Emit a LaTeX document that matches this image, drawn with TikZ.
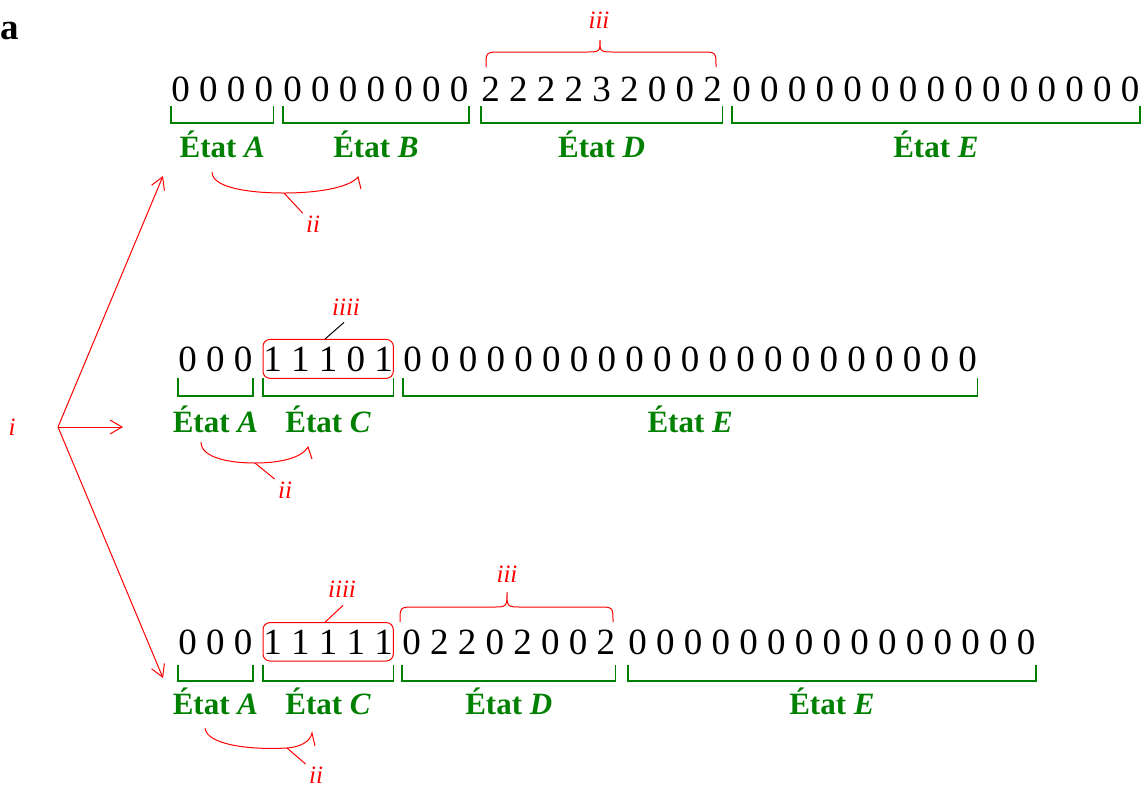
\documentclass[tikz,border=0pt]{standalone}
\usepackage{fontspec}
\setmainfont{Liberation Serif}
\usetikzlibrary{arrows.meta,calc,fit}
\definecolor{stgreen}{RGB}{0,128,0}
\definecolor{annred}{RGB}{255,0,0}
\tikzset{
  dig/.style={anchor=base west, inner sep=0pt, font=\fontsize{18.5}{22}\selectfont},
  brk/.style={draw=stgreen, line width=0.8pt},
  statelab/.style={anchor=base, inner sep=0pt, text=stgreen, font=\fontsize{15.5}{18}\selectfont\bfseries},
  ann/.style={text=annred, font=\fontsize{12.5}{15}\selectfont\itshape, inner sep=0pt},
  annline/.style={draw=annred, line width=0.5pt},
  selbox/.style={draw=annred, line width=0.5pt, rounded corners=3.5pt, inner xsep=0pt, inner ysep=3.3pt},
  forkarrow/.style={annline, -{Straight Barb[length=6pt,width=7pt]}},
}
\newcommand\grpbr[5]{%
  \draw[brk] ($(#1.base west)+(0,#2)$) -- ($(#1.base west)+(0,#3)$) -- ($(#1.base east)+(0,#3)$) -- ($(#1.base east)+(0,#2)$);
  \node[statelab] (l#1) at ($(#1.base)+(0,#4)$) {État \textit{#5}};}
\begin{document}
\begin{tikzpicture}[x=0.5pt,y=-0.5pt]
\useasboundingbox (0,0) rectangle (1146,789);
% panel letter
\node[anchor=base west, inner sep=0pt, font=\fontsize{18.5}{22}\selectfont\bfseries] (panel) at (0.5,39) {a};
% ---------- row 1
\node[dig] (a1) at (171,101) {0 0 0 0};
\node[dig] (b1) at (283,101) {0 0 0 0 0 0 0};
\node[dig] (d1) at (481,101) {2 2 2 2 3 2 0 0 2};
\node[dig] (e1) at (732,101) {0 0 0 0 0 0 0 0 0 0 0 0 0 0 0};
\grpbr{a1}{5}{22}{56}{A}
\grpbr{b1}{5}{22}{56}{B}
\grpbr{d1}{5}{22}{56}{D}
\grpbr{e1}{5}{22}{56}{E}
\draw[annline] (486,67) .. controls (486,52) .. (501,52) -- (585,52) .. controls (600,52) .. (600,40) .. controls (600,52) .. (615,52) -- (701,52) .. controls (716,52) .. (716,67);
\node[ann, anchor=base] (iii1) at (599,28) {iii};
\draw[annline] (212,172) .. controls (212,188) and (250,193) .. (284,193) coordinate (ii1) .. controls (320,193) and (350,187) .. (358,177) -- (361,189);
\node[ann, anchor=base] (lii1) at (313,232) {ii};
\draw[annline] (ii1) -- ($(lii1.north west)+(-3,-2)$);
% ---------- row 2
\node[dig] (a2) at (178,371) {0 0 0};
\node[dig] (c2) at (263,371) {1 1 1 0 1};
\node[dig] (e2) at (403,371) {0 0 0 0 0 0 0 0 0 0 0 0 0 0 0 0 0 0 0 0 0};
\grpbr{a2}{7}{25}{61}{A}
\grpbr{c2}{7}{25}{61}{C}
\grpbr{e2}{7}{25}{61}{E}
\node[selbox, fit=(c2)] (box2) {};
\node[ann, anchor=base] (iv2) at (346,315) {iiii};
\draw[line width=0.5pt] ($(box2.north)+(-3,0)$) -- ($(iv2.south)+(-2,7)$);
\draw[annline] (201,442) .. controls (201,458) and (230,463) .. (255,463) coordinate (ii2) .. controls (285,463) and (303,456) .. (308,447) -- (312,459);
\node[ann, anchor=base] (lii2) at (285,498) {ii};
\draw[annline] (ii2) -- ($(lii2.north west)+(-3,-2)$);
% ---------- row 3
\node[dig] (a3) at (178,654) {0 0 0};
\node[dig] (c3) at (263,654) {1 1 1 1 1};
\node[dig] (d3) at (402,654) {0 2 2 0 2 0 0 2};
\node[dig] (e3) at (628,654) {0 0 0 0 0 0 0 0 0 0 0 0 0 0 0};
\grpbr{a3}{11}{27}{60}{A}
\grpbr{c3}{11}{27}{60}{C}
\grpbr{d3}{11}{27}{60}{D}
\grpbr{e3}{11}{27}{60}{E}
\node[selbox, fit=(c3)] (box3) {};
\node[ann, anchor=base] (iv3) at (342,597) {iiii};
\draw[annline] ($(box3.north)+(-3,0)$) -- ($(iv3.south)+(1,8)$);
\draw[annline] (400,622) .. controls (400,607) .. (415,607) -- (492,607) .. controls (507,607) .. (507,592) .. controls (507,607) .. (522,607) -- (598,607) .. controls (613,607) .. (613,622);
\node[ann, anchor=base] (iii3) at (507,582) {iii};
\draw[annline] (205,728) .. controls (207,745) and (250,750) .. (287,748) coordinate (ii3) .. controls (300,747) and (310,742) .. (312,733) -- (315,746);
\node[ann, anchor=base] (lii3) at (316,783) {ii};
\draw[annline] (ii3) -- ($(lii3.north west)+(-3,-2)$);
% ---------- fork i
\node[ann, anchor=center] (ilab) at (12,427) {i};
\coordinate (fork) at (58,427);
\coordinate (tA) at (163,176);
\coordinate (tB) at (123,427);
\coordinate (tC) at (163,678);
\draw[forkarrow] (fork) -- (tA);
\draw[forkarrow] (fork) -- (tB);
\draw[forkarrow] (fork) -- (tC);
\end{tikzpicture}
\end{document}
